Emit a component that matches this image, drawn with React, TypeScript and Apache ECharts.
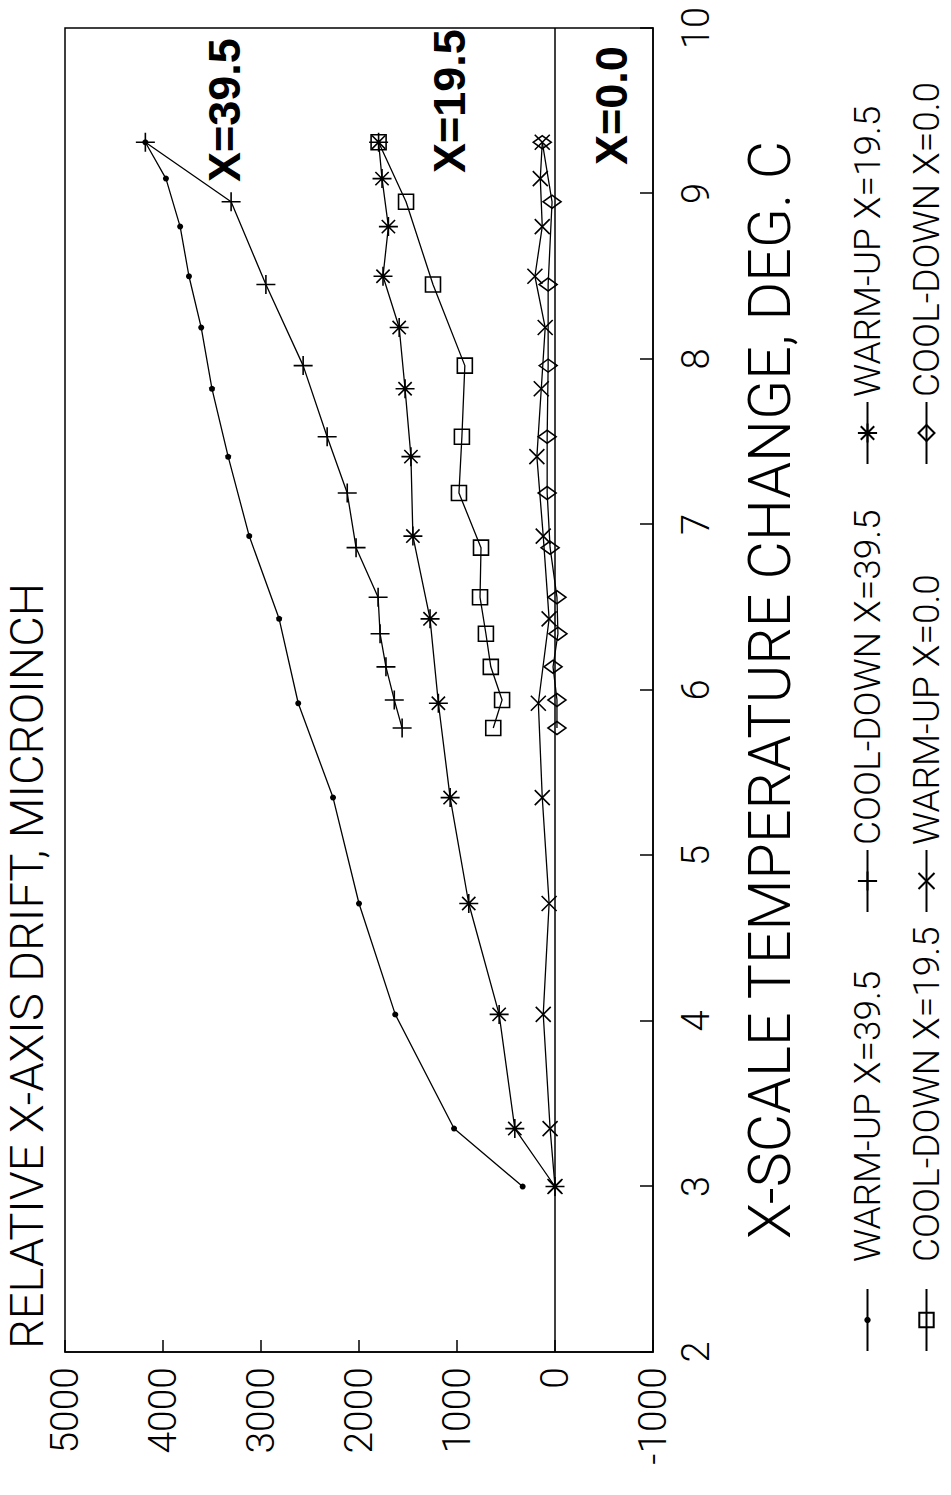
import React, { useEffect, useRef } from "react";
import * as echarts from "echarts";

// Temperature change (deg C) at which the warm-up and cool-down readings were taken
const WARM_TEMP = [3.0, 3.35, 4.04, 4.71, 5.35, 5.92, 6.43, 6.93, 7.41, 7.82, 8.19, 8.5, 8.8, 9.09, 9.31];
const COOL_TEMP = [9.31, 8.95, 8.45, 7.96, 7.53, 7.19, 6.86, 6.56, 6.34, 6.14, 5.94, 5.77];

// Relative X-axis drift, microinch
const WARM_UP_39_5 = [330, 1030, 1630, 2000, 2265, 2620, 2815, 3120, 3335, 3500, 3610, 3735, 3825, 3970, 4180];
const COOL_DOWN_39_5 = [4180, 3305, 2950, 2570, 2325, 2120, 2030, 1805, 1785, 1725, 1640, 1560];
const WARM_UP_19_5 = [0, 410, 570, 880, 1070, 1190, 1275, 1450, 1470, 1530, 1590, 1755, 1700, 1765, 1800];
const COOL_DOWN_19_5 = [1800, 1520, 1245, 920, 950, 980, 755, 765, 705, 655, 540, 630];
const WARM_UP_0_0 = [0, 50, 120, 60, 130, 170, 60, 120, 185, 140, 100, 205, 130, 150, 130];
const COOL_DOWN_0_0 = [130, 30, 70, 70, 80, 80, 50, -20, -30, 20, -20, -20];

const SERIES_NAMES = [
  "WARM-UP X=39.5",
  "COOL-DOWN X=39.5",
  "WARM-UP X=19.5",
  "COOL-DOWN X=19.5",
  "WARM-UP X=0.0",
  "COOL-DOWN X=0.0",
];

const CURVE_LABELS = ["X=39.5", "X=19.5", "X=0.0"];

const FONT = "Roboto, 'Liberation Sans', Arial, sans-serif";
const BOLD_FONT = "'Liberation Sans', Arial, sans-serif";

const PLUS = "path://M0,5L10,5M5,0L5,10";
const STAR = "path://M0,5L10,5M5,0L5,10M1.5,1.5L8.5,8.5M8.5,1.5L1.5,8.5";
const CROSS = "path://M0,0L10,10M10,0L0,10";
const SQUARE = "path://M0,0L10,0L10,10L0,10Z";
const DIAMOND = "path://M5,0L10,5L5,10L0,5Z";

const zip = (t: number[], v: number[]) => t.map((x, i) => [x, v[i]]);

export default function App() {
  const ref = useRef<HTMLDivElement>(null);
  useEffect(() => {
    if (!ref.current) return;
    const chart = echarts.init(ref.current, null, { renderer: "svg" });

    const mk = (
      name: string,
      temps: number[],
      vals: number[],
      symbol: string,
      size: number | number[],
      filled: boolean
    ) => ({
      name,
      type: "line",
      data: zip(temps, vals),
      symbol,
      symbolSize: size,
      showAllSymbol: true,
      z: 3,
      lineStyle: { color: "#000", width: 1.3 },
      itemStyle: {
        color: filled ? "#000" : "rgba(0,0,0,0)",
        borderColor: "#000",
        borderWidth: filled ? 0 : 1.6,
      },
      emphasis: { disabled: true },
    });

    const series: any[] = [
      mk(SERIES_NAMES[0], WARM_TEMP, WARM_UP_39_5, "circle", 6, true),
      mk(SERIES_NAMES[1], COOL_TEMP, COOL_DOWN_39_5, PLUS, 19, false),
      mk(SERIES_NAMES[2], WARM_TEMP, WARM_UP_19_5, STAR, 19, false),
      mk(SERIES_NAMES[3], COOL_TEMP, COOL_DOWN_19_5, SQUARE, 15, false),
      mk(SERIES_NAMES[4], WARM_TEMP, WARM_UP_0_0, CROSS, 15, false),
      mk(SERIES_NAMES[5], COOL_TEMP, COOL_DOWN_0_0, DIAMOND, [13, 18], false),
    ];
    series[0].markLine = {
      silent: true,
      symbol: "none",
      label: { show: false },
      lineStyle: { color: "#000", width: 1.5, type: "solid" },
      data: [{ yAxis: 0 }],
    };

    const legendSpec = [
      { left: 143, row: 0, h: 8, pad: 22 },
      { left: 582, row: 0, h: 24, pad: 0 },
      { left: 1030, row: 0, h: 24, pad: 0 },
      { left: 143, row: 1, h: 18, pad: 22 },
      { left: 582, row: 1, h: 20, pad: 0 },
      { left: 1030, row: 1, h: 20, pad: 0 },
    ];
    const rowCenter = [864, 923];
    const LEG_FS = 37;
    const LEG_LH = 30;
    const legend = legendSpec.map((s, i) => ({
      data: [SERIES_NAMES[i]],
      left: s.left,
      top: rowCenter[s.row] - LEG_LH / 2,
      orient: "horizontal",
      padding: 0,
      itemWidth: 62,
      itemHeight: s.h,
      selectedMode: false,
      textStyle: {
        fontFamily: FONT,
        fontWeight: 300,
        fontSize: LEG_FS,
        lineHeight: LEG_LH,
        color: "#000",
        padding: [0, 0, 0, s.pad],
      },
    }));

    const curveLabelPos = [
      { x: 1313, y: 224 },
      { x: 1322, y: 449 },
      { x: 1330, y: 611 },
    ];

    chart.setOption({
      animation: false,
      backgroundColor: "#fff",
      textStyle: { fontFamily: FONT },
      title: {
        text: "RELATIVE X-AXIS DRIFT, MICROINCH",
        left: 146,
        top: 3,
        padding: 0,
        textStyle: { fontFamily: FONT, fontWeight: 300, fontSize: 47, color: "#000" },
      },
      legend,
      grid: {
        left: 143,
        right: 28,
        top: 65,
        bottom: 298,
        show: true,
        borderColor: "#000",
        borderWidth: 1.5,
        backgroundColor: "transparent",
      },
      xAxis: {
        type: "value",
        min: 2,
        max: 10,
        interval: 1,
        name: "X-SCALE TEMPERATURE CHANGE, DEG. C",
        nameLocation: "middle",
        nameGap: 87,
        nameTextStyle: { fontFamily: FONT, fontWeight: 300, fontSize: 59, color: "#000" },
        axisLine: { show: true, onZero: false, lineStyle: { color: "#000", width: 1.5 } },
        axisTick: { show: true, inside: true, length: 13, lineStyle: { color: "#000", width: 1.5 } },
        axisLabel: { fontFamily: FONT, fontWeight: 300, fontSize: 38, color: "#000", margin: 24 },
        splitLine: { show: false },
      },
      yAxis: {
        type: "value",
        min: -1000,
        max: 5000,
        interval: 1000,
        axisLine: { show: true, onZero: false, lineStyle: { color: "#000", width: 1.5 } },
        axisTick: { show: true, inside: true, length: 12, lineStyle: { color: "#000", width: 1.5 } },
        axisLabel: {
          fontFamily: FONT,
          fontWeight: 300,
          fontSize: 39,
          color: "#000",
          margin: 15,
          formatter: (v: number) => String(v),
        },
        splitLine: { show: false },
      },
      graphic: CURVE_LABELS.map((t, i) => ({
        type: "text",
        x: curveLabelPos[i].x,
        y: curveLabelPos[i].y,
        z: 10,
        style: {
          text: t,
          fill: "#000",
          font: `bold 45px ${BOLD_FONT}`,
          align: "left",
          verticalAlign: "middle",
        },
      })),
      series,
    });
    return () => chart.dispose();
  }, []);

  return (
    <div
      style={{
        position: "absolute",
        left: 0,
        top: 0,
        width: 951,
        height: 1495,
        overflow: "hidden",
        background: "#fff",
      }}
    >
      <div
        ref={ref}
        style={{
          position: "absolute",
          left: 0,
          top: 0,
          width: 1495,
          height: 951,
          transformOrigin: "0 0",
          transform: "translateY(1495px) rotate(-90deg)",
        }}
      />
    </div>
  );
}
